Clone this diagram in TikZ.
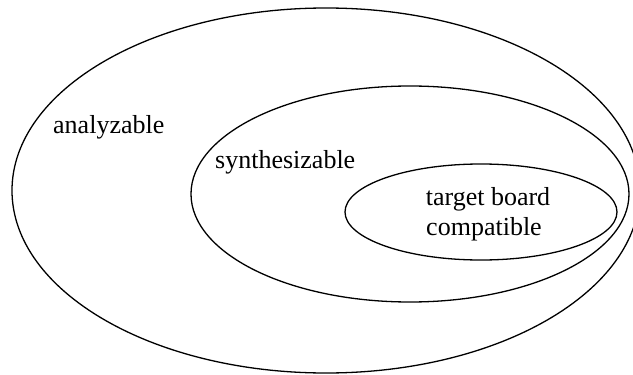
\documentclass[tikz,border=0pt]{standalone}
\usepackage{fontspec}
\setmainfont{Liberation Serif}
\begin{document}
\begin{tikzpicture}[x=1pt,y=-1pt,
  setline/.style={draw=black,line width=1.3pt},
  lbl/.style={inner sep=0pt,font=\fontsize{26}{30}\selectfont}]
\useasboundingbox (0,0) rectangle (633,375);
\begin{scope}
  \clip (0,0) rectangle (633,375);
  % nested sets
  \draw[setline] (326,190.5) ellipse [x radius=314, y radius=182.5];
  \draw[setline] (410,194) ellipse [x radius=219, y radius=108];
  \draw[setline] (481,212) ellipse [x radius=136, y radius=48];
\end{scope}
\node[lbl,anchor=base west] (ana) at (53,133) {analyzable};
\node[lbl,anchor=base west] (syn) at (215,168) {synthesizable};
\node[lbl,anchor=base] (tb) at (488,205) {target board};
\node[lbl,anchor=base] (cp) at (484,235) {compatible};
\end{tikzpicture}
\end{document}
